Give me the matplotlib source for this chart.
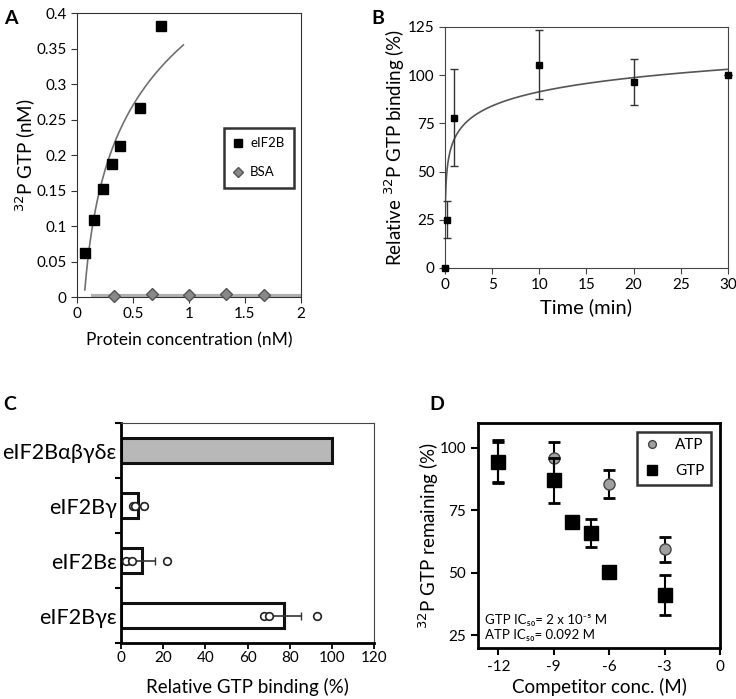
import numpy as np
import matplotlib
matplotlib.use('Agg')
import matplotlib.pyplot as plt

plt.rcParams['font.family'] = ['Lato', 'DejaVu Sans']
plt.rcParams['axes.unicode_minus'] = False

# ---- panel A data
a_x = [0.07, 0.15, 0.23, 0.31, 0.38, 0.56, 0.75]
a_y = [0.062, 0.108, 0.152, 0.187, 0.212, 0.266, 0.381]
bsa_x = [0.33, 0.67, 1.0, 1.33, 1.67]
bsa_y = [0.002, 0.004, 0.003, 0.004, 0.003]
# log trendline y = a*ln(x) + b
a_fit = (0.1323, 0.3618)
a_fit_range = (0.07, 0.95)

# ---- panel B data
b_t = [0, 0.25, 1, 10, 20, 30]
b_y = [0, 25, 78, 105.5, 96.5, 100]
b_err = [0, 9.5, 25, 18, 12, 0]
b_fit = (10.6, 67.0)
b_fit_range = (0.0019, 30)

# ---- panel C data
c_labels = ['eIF2B\u03b1\u03b2\u03b3\u03b4\u03b5', 'eIF2B\u03b3', 'eIF2B\u03b5', 'eIF2B\u03b3\u03b5']
c_vals = [100, 8, 10, 77.5]
c_err = [0, 2, 6, 8]
c_pts = [[], [5.5, 6.5, 11], [2.5, 5, 22], [68, 70, 93]]

# ---- panel D data
d_gtp_x = [-12, -9, -8, -7, -6, -3]
d_gtp_y = [94.5, 87, 70.5, 66, 50.5, 41]
d_gtp_err = [8.5, 9, 1.5, 5.5, 1.5, 8]
d_atp_x = [-12, -9, -6, -3]
d_atp_y = [94.5, 96, 85.5, 59.5]
d_atp_err = [8, 6.5, 5.5, 5]

fig = plt.figure(figsize=(7.36, 6.99), dpi=100)

# ================= A
ax1 = fig.add_axes([0.1046, 0.5751, 0.3043, 0.4063])
xs = np.linspace(a_fit_range[0], a_fit_range[1], 200)
ax1.plot(xs, a_fit[0] * np.log(xs) + a_fit[1], color='#707070', lw=1.2, zorder=2)
ax1.plot([0.14, 2.0], [0.002, 0.002], color='#b0b0b0', lw=3, zorder=1)
ax1.plot(a_x, a_y, 's', color='black', ms=7.5, zorder=3, label='eIF2B')
ax1.plot(bsa_x, bsa_y, 'D', color='#888888', mec='#555555', ms=6.5, zorder=3, label='BSA', clip_on=False)
ax1.set_xlim(0, 2)
ax1.set_ylim(0, 0.4)
ax1.set_xticks([0, 0.5, 1, 1.5, 2])
ax1.set_xticklabels(['0', '0.5', '1', '1.5', '2'])
ax1.set_yticks([0, 0.05, 0.1, 0.15, 0.2, 0.25, 0.3, 0.35, 0.4])
ax1.set_yticklabels(['0', '0.05', '0.1', '0.15', '0.2', '0.25', '0.3', '0.35', '0.4'])
ax1.set_xlabel('Protein concentration (nM)', fontsize=12.5, labelpad=8)
ax1.set_ylabel('$^{32}$P GTP (nM)', fontsize=13.5, labelpad=-1)
leg = ax1.legend(loc='upper left', bbox_to_anchor=(0.655, 0.595), fontsize=9.5,
                 frameon=True, fancybox=False, handletextpad=0.5, labelspacing=1.3,
                 borderpad=0.7, markerscale=0.75, handlelength=0.8, borderaxespad=0)
leg.get_frame().set_edgecolor('black')
leg.get_frame().set_linewidth(1.8)
for s in ax1.spines.values():
    s.set_color('#333333')
ax1.tick_params(labelsize=11, direction='out', length=4, color='#333333')
fig.text(0.005, 0.985, 'A', fontsize=14, fontweight='bold', va='top')

# ================= B
ax2 = fig.add_axes([0.6046, 0.6166, 0.3845, 0.3448])
ts = np.linspace(b_fit_range[0], b_fit_range[1], 3000)
ax2.plot(ts, b_fit[0] * np.log(ts) + b_fit[1], color='#555555', lw=1.2, zorder=2)
ax2.errorbar(b_t, b_y, yerr=b_err, fmt='s', color='black', ms=5, ecolor='#333333',
             elinewidth=1, capsize=3, zorder=3, clip_on=False)
ax2.set_xlim(0, 30)
ax2.set_ylim(0, 125)
ax2.set_xticks([0, 5, 10, 15, 20, 25, 30])
ax2.set_yticks([0, 25, 50, 75, 100, 125])
ax2.set_xlabel('Time (min)', fontsize=14.5, labelpad=4)
ax2.set_ylabel('Relative $^{32}$P GTP binding (%)', fontsize=13.5, labelpad=1)
for s in ax2.spines.values():
    s.set_color('#444444')
ax2.tick_params(labelsize=11, direction='out', length=4, color='#444444')
fig.text(0.505, 0.985, 'B', fontsize=14, fontweight='bold', va='top')

# ================= C
ax3 = fig.add_axes([0.1644, 0.0801, 0.3438, 0.3147])
ypos = np.arange(len(c_labels))
colors = ['#b8b8b8', 'white', 'white', 'white']
ax3.barh(ypos, c_vals, height=0.46, color=colors, edgecolor='#111111', linewidth=2.2, zorder=2)
for i in range(len(c_labels)):
    if c_err[i] > 0:
        ax3.errorbar(c_vals[i], ypos[i], xerr=c_err[i], fmt='none', ecolor='#333333',
                     elinewidth=1.2, capsize=3, zorder=3)
    if c_pts[i]:
        ax3.plot(c_pts[i], [ypos[i]] * len(c_pts[i]), 'o', mfc='white', mec='#222222',
                 mew=1.2, ms=5.5, zorder=4)
ax3.set_ylim(3.5, -0.5)
ax3.set_xlim(0, 120)
ax3.set_yticks(ypos)
ax3.set_yticklabels(c_labels, fontsize=15.5)
ax3.set_yticks(np.arange(-0.5, 3.6, 1), minor=True)
ax3.tick_params(axis='y', which='major', length=0, pad=3)
ax3.tick_params(axis='y', which='minor', length=4, width=1.5, direction='out')
ax3.set_xticks([0, 20, 40, 60, 80, 100, 120])
ax3.tick_params(axis='x', labelsize=11, direction='out', length=4, width=1.3, pad=2)
ax3.set_xlabel('Relative GTP binding (%)', fontsize=13.5, labelpad=9)
ax3.spines['left'].set_linewidth(2)
ax3.spines['bottom'].set_linewidth(2)
for s in ['top', 'right']:
    ax3.spines[s].set_color('#444444')
fig.text(0.005, 0.433, 'C', fontsize=14, fontweight='bold', va='top')

# ================= D
ax4 = fig.add_axes([0.6495, 0.0730, 0.3288, 0.3219])
ax4.errorbar(d_atp_x, d_atp_y, yerr=d_atp_err, fmt='o', color='#a0a0a0', mec='#444444',
             ms=8, ecolor='black', elinewidth=1.5, capsize=4, capthick=2, zorder=3, label='ATP')
ax4.errorbar(d_gtp_x, d_gtp_y, yerr=d_gtp_err, fmt='s', color='black',
             ms=9.5, ecolor='black', elinewidth=1.5, capsize=4, capthick=2, zorder=4, label='GTP')
ax4.set_xlim(-13.1, 0)
ax4.set_ylim(20, 110)
ax4.set_xticks([-12, -9, -6, -3, 0])
ax4.set_yticks([25, 50, 75, 100])
ax4.set_xlabel('Competitor conc. (M)', fontsize=13.5, labelpad=3)
ax4.set_ylabel('$^{32}$P GTP remaining (%)', fontsize=13.5, labelpad=-1)
for s in ax4.spines.values():
    s.set_linewidth(2)
ax4.tick_params(labelsize=11, direction='out', length=5, width=1.5)
h, l = ax4.get_legend_handles_labels()
leg4 = ax4.legend([hh[0] for hh in h], l, loc='upper right', fontsize=11, frameon=True,
                  fancybox=False, handletextpad=0.9, labelspacing=0.8, borderpad=0.4,
                  markerscale=0.7, handlelength=1.2, borderaxespad=0.6)
leg4.get_frame().set_edgecolor('black')
leg4.get_frame().set_linewidth(1.8)
ax4.text(0.03, 0.124, 'GTP IC\u2085\u2080= 2 x 10\u207b\u2075 M', transform=ax4.transAxes,
         fontsize=9.5, va='center')
ax4.text(0.03, 0.058, 'ATP IC\u2085\u2080= 0.092 M', transform=ax4.transAxes,
         fontsize=9.5, va='center')
fig.text(0.583, 0.433, 'D', fontsize=14, fontweight='bold', va='top')

fig.savefig('out.png', dpi=100)
